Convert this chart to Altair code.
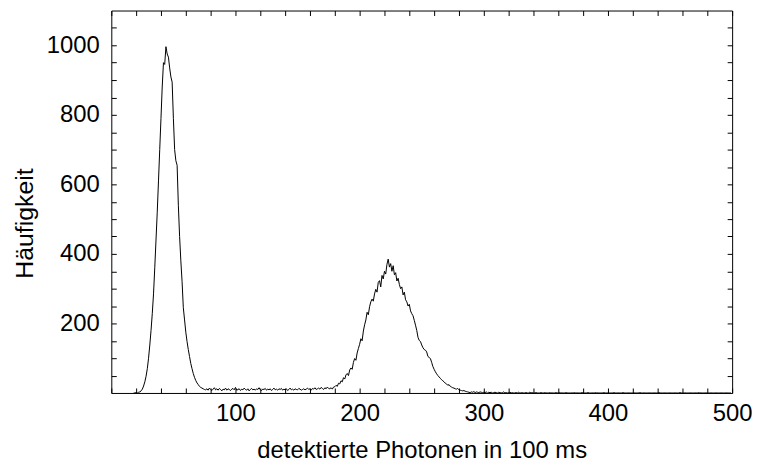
import altair as alt
import pandas as pd

# Histogram counts, one value per photon count starting at 18
peak1_counts = [  # x = 18 .. 75
    0, 0, 1, 0, 2, 3, 6, 11, 20, 32, 48, 70, 100, 138, 180, 228, 285, 360, 440,
    520, 610, 700, 790, 880, 950, 945, 996, 975, 966, 935, 909, 894, 790, 700,
    668, 655, 540, 450, 380, 320, 245, 210, 175, 148, 125, 105, 85, 70, 56, 45,
    36, 29, 24, 19, 16, 14, 12, 10,
]
baseline_counts = [  # x = 76 .. 175
    9, 12, 8, 14, 10, 7, 11, 15, 9, 12,
    8, 13, 10, 6, 11, 9, 14, 8, 12, 10,
    7, 11, 13, 9, 16, 8, 10, 12, 7, 11,
    9, 14, 10, 8, 12, 6, 10, 13, 9, 11,
    8, 12, 10, 15, 9, 7, 11, 10, 13, 8,
    11, 9, 12, 7, 10, 14, 9, 11, 8, 12,
    10, 13, 8, 11, 9, 12, 7, 10, 14, 9,
    11, 8, 12, 10, 9, 13, 11, 8, 10, 12,
    9, 11, 14, 10, 12, 8, 13, 11, 15, 10,
    12, 14, 11, 16, 13, 10, 15, 12, 17, 13,
]
peak2_counts = [  # x = 176 .. 289
    12, 15, 11, 17, 18, 22, 19, 28, 26, 35, 32, 44, 40, 52, 56, 50, 66, 72, 68,
    88, 99, 94, 115, 128, 140, 156, 150, 178, 196, 210, 232, 225, 248, 262, 270,
    264, 285, 298, 290, 318, 323, 305, 338, 328, 350, 342, 370, 385, 362, 372,
    350, 366, 340, 346, 322, 330, 312, 300, 305, 282, 290, 268, 262, 250, 255,
    236, 228, 222, 209, 195, 180, 160, 151, 148, 138, 130, 125, 123, 118, 105,
    102, 99, 88, 76, 68, 61, 55, 50, 46, 42, 38, 35, 32, 28, 26, 22, 24, 19,
    17, 15, 14, 12, 11, 13, 9, 8, 7, 6, 7, 5, 4, 3, 2, 1,
]
tail_counts = [  # x = 290 .. 499
    3, 2, 4, 1, 3, 2, 1, 3, 2, 1,
    2, 1, 3, 0, 2, 1, 2, 0, 1, 2,
    1, 0, 2, 1, 0, 1, 3, 0, 1, 0,
    1, 2, 0, 1, 0, 0, 1, 0, 2, 0,
    0, 1, 0, 0, 1, 0, 0, 2, 0, 1,
    0, 0, 1, 0, 0, 0, 1, 0, 0, 1,
    0, 0, 0, 1, 0, 0, 0, 0, 1, 0,
    0, 1, 0, 0, 0, 0, 1, 0, 0, 0,
    0, 0, 0, 1, 0, 0, 0, 0, 0, 1,
    0, 0, 0, 0, 1, 0, 0, 0, 0, 0,
    1, 0, 0, 0, 0, 0, 0, 1, 0, 0,
    0, 0, 0, 0, 0, 1, 0, 0, 0, 0,
    0, 0, 1, 0, 0, 0, 0, 0, 0, 0,
    0, 0, 0, 0, 0, 0, 1, 0, 0, 0,
    0, 0, 0, 0, 0, 0, 0, 0, 0, 0,
    0, 1, 0, 0, 0, 0, 0, 0, 0, 0,
    0, 0, 0, 0, 0, 0, 0, 0, 1, 0,
    0, 0, 0, 0, 0, 0, 0, 0, 0, 0,
    0, 0, 0, 1, 0, 0, 0, 0, 0, 0,
    0, 0, 0, 0, 0, 0, 0, 0, 0, 0,
    0, 0, 0, 0, 0, 0, 0, 0, 0, 0,
]
first_photon = 18

x_tick_values = [0, 20, 40, 60, 80, 100, 120, 140, 160, 180, 200, 220, 240, 260,
                 280, 300, 320, 340, 360, 380, 400, 420, 440, 460, 480, 500]
y_tick_values = [50, 100, 150, 200, 250, 300, 350, 400, 450, 500, 550, 600, 650,
                 700, 750, 800, 850, 900, 950, 1000, 1050]

counts = peak1_counts + baseline_counts + peak2_counts + tail_counts
df = pd.DataFrame({
    "photonen": [first_photon + i for i in range(len(counts))],
    "haeufigkeit": counts,
})

FONT = "Liberation Sans"
x_scale = alt.Scale(domain=[0, 500], nice=False, zero=False)
y_scale = alt.Scale(domain=[0, 1100], nice=False, zero=False)
inside = {"expr": "-5"}

line = alt.Chart(df).mark_line(color="black", strokeWidth=1, interpolate="linear").encode(
    x=alt.X("photonen:Q", scale=x_scale,
            axis=alt.Axis(orient="bottom", title="detektierte Photonen in 100 ms",
                          values=x_tick_values, tickSize=inside, labelPadding=14,
                          format="d",
                          labelExpr="datum.value % 100 === 0 && datum.value > 0 ? datum.label : ''",
                          labelOverlap=False, labelFlush=False, titleFontSize=24,
                          titleY=65, titleBaseline="alphabetic")),
    y=alt.Y("haeufigkeit:Q", scale=y_scale,
            axis=alt.Axis(orient="left", title="Häufigkeit",
                          values=y_tick_values, tickSize=inside, labelPadding=17,
                          format="d",
                          labelExpr="datum.value % 200 === 0 ? datum.label : ''",
                          labelOverlap=False, labelFlush=False, titleFontSize=25,
                          titleX=-87, titleY=214, titleBaseline="middle")),
)

frame = alt.Chart(df).mark_line(opacity=0).encode(
    x=alt.X("photonen:Q", scale=x_scale,
            axis=alt.Axis(orient="top", title=None, labels=False,
                          values=x_tick_values, tickSize=inside)),
    y=alt.Y("haeufigkeit:Q", scale=y_scale,
            axis=alt.Axis(orient="right", title=None, labels=False,
                          values=y_tick_values, tickSize=inside)),
)

chart = alt.layer(line, frame).resolve_axis(
    x="independent", y="independent"
).properties(
    width=625, height=385,
    autosize=alt.AutoSizeParams(type="none"),
    padding={"left": 104, "top": 1, "right": 20, "bottom": 74},
).configure_view(stroke=None).configure_axis(
    grid=False, domainColor="black", domainWidth=1, tickColor="black", tickWidth=1,
    labelFont=FONT, labelFontSize=24, labelColor="black",
    titleFont=FONT, titleColor="black", titleFontWeight="normal",
)

chart.save("out.html", embed_options={"renderer": "svg", "actions": False})
